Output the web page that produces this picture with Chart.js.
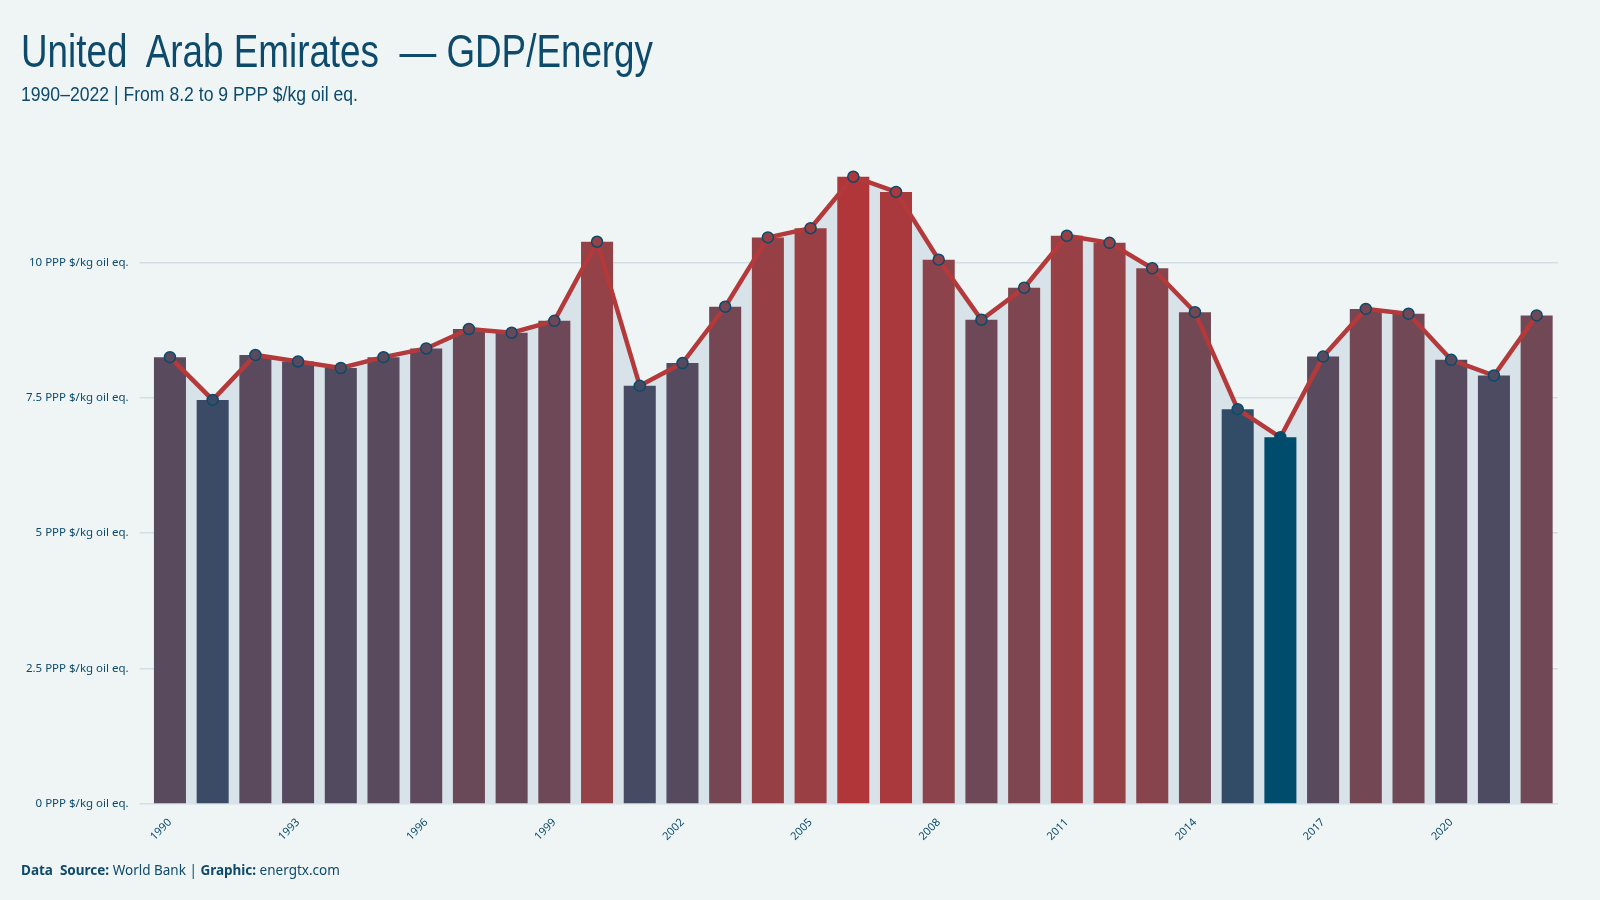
<!DOCTYPE html>
<html>
<head>
<meta charset="utf-8">
<script src="https://cdn.jsdelivr.net/npm/chart.js@4.4.1/dist/chart.umd.min.js"></script>
<style>
  html, body { margin: 0; padding: 0; background: #eff5f5; }
  #wrap { position: relative; width: 1600px; height: 900px; overflow: hidden; }
  #chart { position: absolute; left: 0; top: 0; }
  .txt { position: absolute; left: 21px; color: #0d4a6b; white-space: pre; transform-origin: left top; }
  #title { top: 24px; font: 46px "Liberation Sans", sans-serif; transform: scaleX(0.8); }
  #sub { top: 83px; font: 20px "Liberation Sans", sans-serif; transform: scaleX(0.88); }
  #foot { top: 861px; font: 13.5px "Noto Sans", sans-serif; }
  #foot b { font-weight: 700; }
</style>
</head>
<body>
<div id="wrap">
  <canvas id="chart" width="1600" height="900"></canvas>
  <div class="txt" id="title">United  Arab Emirates  — GDP/Energy</div>
  <div class="txt" id="sub">1990–2022 | From 8.2 to 9 PPP $/kg oil eq.</div>
  <div class="txt" id="foot"><b>Data  Source:</b> World Bank | <b>Graphic:</b> energtx.com</div>
</div>
<script>
// --- Données ---
const years = [1990, 1991, 1992, 1993, 1994, 1995, 1996, 1997, 1998, 1999,
               2000, 2001, 2002, 2003, 2004, 2005, 2006, 2007, 2008, 2009,
               2010, 2011, 2012, 2013, 2014, 2015, 2016, 2017, 2018, 2019,
               2020, 2021, 2022];
const gdpEnergy = [8.25, 7.46, 8.29, 8.17, 8.05, 8.25, 8.41, 8.77, 8.70, 8.92,
                   10.38, 7.72, 8.14, 9.18, 10.46, 10.63, 11.58, 11.30, 10.05, 8.94,
                   9.53, 10.49, 10.36, 9.89, 9.08, 7.29, 6.77, 8.26, 9.14, 9.05,
                   8.20, 7.91, 9.02];
const yTicks = [0, 2.5, 5, 7.5, 10];
const unit = ' PPP $/kg oil eq.';

// --- Couleurs ---
const LOW = '#004c6d';
const HIGH = '#b1363a';
const INK = '#0d4a6b';

const hex2rgb = (h) => [1, 3, 5].map(i => parseInt(h.substr(i, 2), 16));
function rgb2lab([r, g, b]) {
  const lin = (c) => { c /= 255; return c > 0.04045 ? Math.pow((c + 0.055) / 1.055, 2.4) : c / 12.92; };
  const R = lin(r), G = lin(g), B = lin(b);
  let X = (R * 0.4124 + G * 0.3576 + B * 0.1805) / 0.95047;
  let Y = (R * 0.2126 + G * 0.7152 + B * 0.0722);
  let Z = (R * 0.0193 + G * 0.1192 + B * 0.9505) / 1.08883;
  const f = (t) => t > 0.008856 ? Math.cbrt(t) : 7.787 * t + 16 / 116;
  X = f(X); Y = f(Y); Z = f(Z);
  return [116 * Y - 16, 500 * (X - Y), 200 * (Y - Z)];
}
function lab2rgb([L, a, b]) {
  let Y = (L + 16) / 116, X = a / 500 + Y, Z = Y - b / 200;
  const fi = (t) => t * t * t > 0.008856 ? t * t * t : (t - 16 / 116) / 7.787;
  X = fi(X) * 0.95047; Y = fi(Y); Z = fi(Z) * 1.08883;
  let R = X * 3.2406 + Y * -1.5372 + Z * -0.4986;
  let G = X * -0.9689 + Y * 1.8758 + Z * 0.0415;
  let B = X * 0.0557 + Y * -0.2040 + Z * 1.0570;
  const g = (c) => Math.round(255 * Math.min(1, Math.max(0, c > 0.0031308 ? 1.055 * Math.pow(c, 1 / 2.4) - 0.055 : 12.92 * c)));
  return [g(R), g(G), g(B)];
}
const labLow = rgb2lab(hex2rgb(LOW));
const labHigh = rgb2lab(hex2rgb(HIGH));
const vMin = Math.min(...gdpEnergy), vMax = Math.max(...gdpEnergy);
const colorFor = (v) => {
  const t = (v - vMin) / (vMax - vMin);
  const [r, g, b] = lab2rgb(labLow.map((c, i) => c + (labHigh[i] - c) * t));
  return `rgb(${r},${g},${b})`;
};
const barColors = gdpEnergy.map(colorFor);

// --- Graphique ---
const ctx = document.getElementById('chart').getContext('2d');
new Chart(ctx, {
  data: {
    labels: years.map(String),
    datasets: [
      {
        type: 'line',
        data: gdpEnergy,
        order: 0,
        borderColor: '#b3393a',
        borderWidth: 4.5,
        fill: 'origin',
        backgroundColor: '#d7e3e8',
        pointRadius: 5.5,
        pointBackgroundColor: barColors,
        pointBorderColor: '#0b4a6b',
        pointBorderWidth: 1.5,
        tension: 0
      },
      {
        type: 'bar',
        data: gdpEnergy,
        order: 1,
        backgroundColor: barColors,
        categoryPercentage: 1,
        barPercentage: 0.75
      }
    ]
  },
  options: {
    responsive: false,
    animation: false,
    layout: { padding: { top: 154, right: 42, left: 0, bottom: 0 } },
    plugins: {
      legend: { display: false },
      tooltip: { enabled: false },
      filler: { drawTime: 'beforeDatasetsDraw' }
    },
    scales: {
      x: {
        offset: true,
        grid: { display: false, drawTicks: false },
        border: { display: false },
        afterFit: (s) => { s.height = 96; },
        ticks: {
          autoSkip: false,
          maxRotation: 45,
          minRotation: 45,
          padding: 12,
          color: INK,
          font: { family: 'Noto Sans', size: 11 },
          callback: (val, i) => (i % 3 === 0 ? years[i] : '')
        }
      },
      y: {
        min: 0,
        max: 12,
        afterFit: (s) => { s.width = 148.6; },
        afterBuildTicks: (s) => { s.ticks = yTicks.map(value => ({ value })); },
        border: { display: false },
        grid: { color: '#d3dfe4', lineWidth: 1.5, tickLength: 9 },
        ticks: {
          padding: 11,
          color: INK,
          font: { family: 'Noto Sans', size: 11.5 },
          callback: (v) => v + unit
        }
      }
    }
  }
});
</script>
</body>
</html>
